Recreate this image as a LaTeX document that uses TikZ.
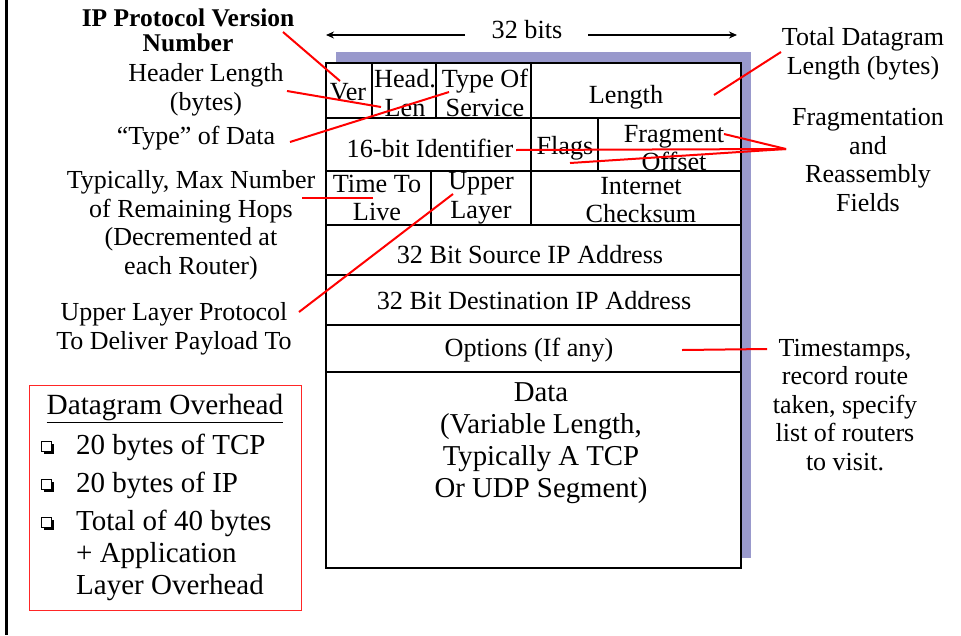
\documentclass[tikz,border=0pt]{standalone}
\usepackage{fontspec}
\setmainfont{Liberation Serif}
\usetikzlibrary{arrows.meta}
\definecolor{shadowc}{HTML}{9999CC}
\begin{document}
\begin{tikzpicture}[x=1pt,y=-1pt,
  lbl/.style={font=\fontsize{26}{28.5}\selectfont, align=center, inner sep=0pt},
  cell/.style={font=\fontsize{26.2}{28.5}\selectfont, align=center, inner sep=0pt},
  big/.style={font=\fontsize{28.8}{32}\selectfont, align=center, inner sep=0pt},
  boxt/.style={font=\fontsize{29}{32}\selectfont, align=left, inner sep=0pt, anchor=west},
  conn/.style={red, line width=2pt},
  grid/.style={black, line width=2pt},
  bits/.style={black, line width=1.5pt, -{Stealth[length=8pt,width=7pt]}},
]
\useasboundingbox (0,0) rectangle (961,635);
\fill[white] (0,0) rectangle (961,635);
\fill[black] (5,0) rectangle (8,635);
% shadow and table
\fill[shadowc] (336,52) rectangle (751,558);
\fill[white] (326,63) rectangle (741,568);
\draw[grid] (326,63) rectangle (741,568);
\foreach \yy in {118,171,225,275,325,372} \draw[grid] (326,\yy) -- (741,\yy);
\draw[grid] (372,63) -- (372,118);
\draw[grid] (436,63) -- (436,118);
\draw[grid] (531,63) -- (531,225);
\draw[grid] (598,118) -- (598,171);
\draw[grid] (431,171) -- (431,225);
% 32 bits
\node[cell] (bits) at (527,30) {32 bits};
\coordinate (bl) at (465,35); \coordinate (bla) at (326,35);
\coordinate (br) at (588,35); \coordinate (bra) at (737,35);
\draw[bits] (bl) -- (bla);
\draw[bits] (br) -- (bra);
% cells
\node[cell] (ver) at (348,92) {Ver};
\node[cell] (hlen) at (405,93) {Head.\\Len};
\node[cell] (tos) at (485,93) {Type Of\\Service};
\node[cell] (len) at (626,97) {Length};
\node[cell] (ident) at (430,148) {16-bit Identifier};
\node[cell] (flags) at (565,148) {Flags};
\node[cell] (frag) at (674,148) {Fragment\\Offset};
\node[cell] (ttl) at (377,198) {Time To\\Live};
\node[cell] (ul) at (481,198) {Upper\\Layer};
\node[cell] (csum) at (641,200) {Internet\\Checksum};
\node[cell] (src) at (530,255) {32 Bit Source IP Address};
\node[cell] (dst) at (534,301) {32 Bit Destination IP Address};
\node[cell] (opt) at (529,350) {Options (If any)};
\node[big] (data) at (541,443) {Data\\(Variable Length,\\Typically A TCP\\Or UDP Segment)};
% left labels
\node[lbl, font=\fontsize{25.5}{25}\selectfont\bfseries] (ipv) at (188,30) {IP Protocol Version\\Number};
\node[lbl] (hl) at (206,90) {Header Length\\(bytes)};
\node[lbl] (tod) at (196,138) {“Type” of Data};
\node[lbl] (hops) at (191,225) {Typically, Max Number\\of Remaining Hops\\(Decremented at\\each Router)};
\node[lbl] (ulp) at (174,329) {Upper Layer Protocol\\To Deliver Payload To};
% right labels
\node[lbl] (tdl) at (863,54) {Total Datagram\\Length (bytes)};
\node[lbl] (fra) at (868,160) {Fragmentation\\and\\Reassembly\\Fields};
\node[lbl] (ts) at (845,405) {Timestamps,\\record route\\taken, specify\\list of routers\\to visit.};
% overhead box
\draw[red!85, line width=1pt] (29,385) rectangle (301,610);
\node[big, font=\fontsize{29.3}{32}\selectfont] (ovt) at (165,408) {\underline{Datagram Overhead}};
\foreach \cy in {447,485,523} {
  \fill[black] (43.5,\cy-3.5) rectangle (53.5,\cy+6.5);
  \draw[black, fill=white, line width=0.8pt] (41.5,\cy-5.5) rectangle (51,\cy+4);
}
\node[boxt] (i1) at (76,447) {20 bytes of TCP};
\node[boxt] (i2) at (76,485) {20 bytes of IP};
\node[boxt] (i3) at (76,555) {Total of 40 bytes\\+ Application\\Layer Overhead};
% connectors
\coordinate (c1a) at (283,32); \coordinate (c1b) at (340,81);
\coordinate (c2a) at (287,91); \coordinate (c2b) at (381,107);
\coordinate (c3a) at (290,142); \coordinate (c3b) at (449,92);
\coordinate (c4a) at (781,52); \coordinate (c4b) at (714,95);
\coordinate (c5) at (786,149); \coordinate (c5a) at (724,134);
\coordinate (c5b) at (516,150); \coordinate (c5c) at (570,163);
\coordinate (c6a) at (302,198); \coordinate (c6b) at (373,198);
\coordinate (c7a) at (299,312); \coordinate (c7b) at (453,194);
\coordinate (c8a) at (682,350); \coordinate (c8b) at (767,349);
\draw[conn] (c1a) -- (c1b);
\draw[conn] (c2a) -- (c2b);
\draw[conn] (c3a) -- (c3b);
\draw[conn] (c4a) -- (c4b);
\draw[conn] (c5) -- (c5a);
\draw[conn] (c5) -- (c5b);
\draw[conn] (c5) -- (c5c);
\draw[conn] (c6a) -- (c6b);
\draw[conn] (c7a) -- (c7b);
\draw[conn] (c8a) -- (c8b);
\end{tikzpicture}
\end{document}
